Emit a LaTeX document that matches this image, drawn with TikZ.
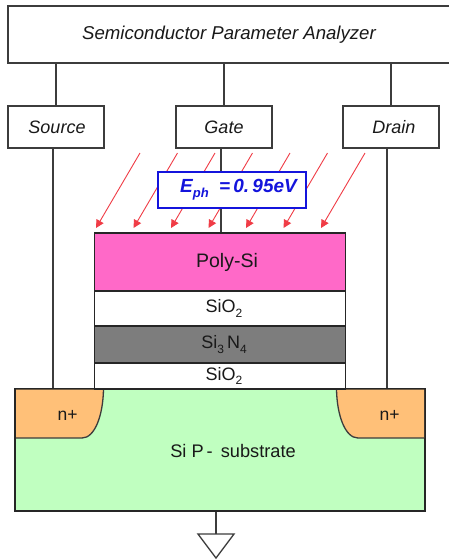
\documentclass[tikz,border=0pt]{standalone}
\usepackage{fontspec}
\setmainfont{Liberation Sans}
\usetikzlibrary{arrows.meta,calc}
\definecolor{wire}{RGB}{60,60,60}
\definecolor{raycol}{RGB}{240,60,70}
\definecolor{polycol}{RGB}{255,105,200}
\definecolor{nitride}{RGB}{125,125,125}
\definecolor{subcol}{RGB}{192,255,192}
\definecolor{ncol}{RGB}{255,192,120}
\definecolor{bluecol}{RGB}{20,20,220}
\newcommand{\fs}[1]{\fontsize{#1}{#1}\selectfont}
\newcommand{\lowsub}[1]{\raisebox{-0.25em}{\fs{12}#1}}
\tikzset{
 x=1pt,y=-1pt,
 wirel/.style={draw=wire,line width=1.3pt},
 ibox/.style={draw=wire,line width=1.3pt,fill=white,inner sep=0pt,font=\fs{18}\itshape,text=black!90},
 layer/.style={draw=black!85,line width=1.3pt,inner sep=0pt,minimum width=251pt,font=\fs{18},text=black!90},
 ray/.style={draw=raycol,line width=0.9pt,-{Triangle[length=8pt,width=8pt]}},
}
\begin{document}
\begin{tikzpicture}
\useasboundingbox (0,0) rectangle (448,560);
\fill[white] (0,0) rectangle (448,560);
% substrate and diffusions
\node[draw=black!85,line width=1.3pt,fill=subcol,minimum width=409pt,minimum height=122pt,inner sep=0pt] (sub) at (220,450) {};
\node[font=\fs{18.2},text=black!90] (sublabel) at (233,451) {Si P\,-\, substrate};
\fill[ncol] (15.5,389.5) -- (103.5,389.5) .. controls (103,415) and (95,438) .. (82,438) -- (15.5,438) -- cycle;
\fill[ncol] (424,389.5) -- (336.5,389.5) .. controls (337,415) and (345,438) .. (358,438) -- (424,438) -- cycle;
\draw[wirel] (103.5,389.5) .. controls (103,415) and (95,438) .. (82,438) -- (15.5,438);
\draw[wirel] (336.5,389.5) .. controls (337,415) and (345,438) .. (358,438) -- (424,438);
\node[font=\fs{17.5},text=black!90] (nl) at (67.5,415) {n+};
\node[font=\fs{17.5},text=black!90] (nr) at (389.5,415) {n+};
\draw[draw=black!85,line width=1.3pt] (sub.north west) rectangle (sub.south east);
% layers
\node[layer,fill=polycol,minimum height=58pt] (poly) at (220,262) {\hspace{14pt}\raisebox{-3pt}{\fs{19.5}Poly-Si}};
\node[layer,fill=white,minimum height=35pt] (oxa) at (220,308.5) {\hspace{8pt}\raisebox{-1pt}{SiO\lowsub{2}}};
\node[layer,fill=nitride,minimum height=37pt] (nit) at (220,344.5) {\hspace{8pt}\raisebox{-1pt}{Si\lowsub{3}\,N\lowsub{4}}};
\node[layer,fill=white,minimum height=26pt] (oxb) at (220,376) {\hspace{8pt}\raisebox{-1pt}{SiO\lowsub{2}}};
% instrument boxes
\node[ibox,minimum width=442pt,minimum height=57pt,font=\fs{18.6}\itshape] (spa) at (229,34.5) {\raisebox{-3.5pt}{Semiconductor Parameter Analyzer}};
\node[ibox,minimum width=96pt,minimum height=42pt] (src) at (56,127) {\hspace{2pt}Source};
\node[ibox,minimum width=96pt,minimum height=42pt] (gate) at (224,127) {Gate};
\node[ibox,minimum width=96pt,minimum height=42pt] (drain) at (391,127) {\hspace{6pt}Drain};
% connectors
\draw[wirel] (src.north) -- (src.north |- spa.south);
\draw[wirel] (gate.north) -- (gate.north |- spa.south);
\draw[wirel] (drain.north) -- (drain.north |- spa.south);
\coordinate (sb) at ($(src.south)+(-3,0)$);
\coordinate (db) at ($(drain.south)+(-4,0)$);
\coordinate (gb) at ($(gate.south)+(-3,0)$);
\draw[wirel] (sb) -- (sb |- sub.north);
\draw[wirel] (db) -- (db |- sub.north);
\draw[wirel] (gb) -- (gb |- poly.north);
\coordinate (gndtop) at (216,534);
\draw[wirel] (gndtop |- sub.south) -- (gndtop);
\draw[wirel,fill=white,line join=miter] (198,534) -- (234,534) -- (216,558) -- cycle;
% rays
\foreach \i in {0,...,6}{
  \coordinate (t\i) at ({96+37.5*\i},228);
  \coordinate (h\i) at ({140+37.5*\i},153);
  \draw[ray] (h\i) -- (t\i);
}
% photon energy label
\node[draw=bluecol,line width=1.1pt,fill=white,minimum width=148pt,minimum height=36pt,inner sep=0pt,text=bluecol,font=\fs{19}\bfseries\itshape] (eph) at (232,190) {\hspace{13pt}E\raisebox{-0.25em}{\fs{13}ph}\hspace{0.55em}=\,0.\,95eV};
\end{tikzpicture}
\end{document}
